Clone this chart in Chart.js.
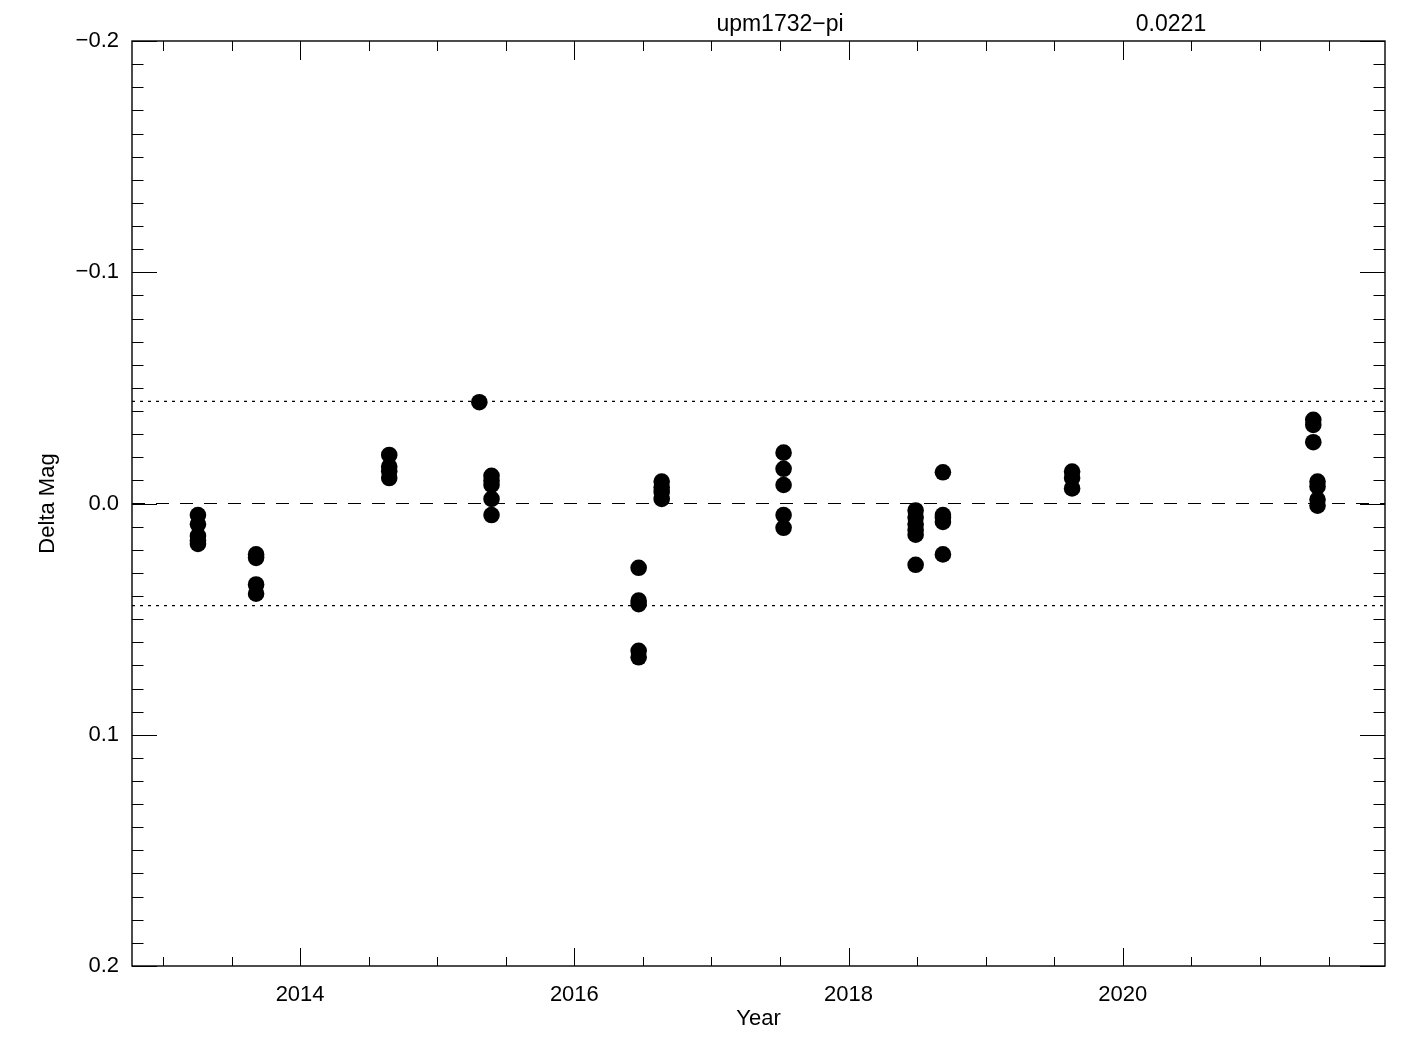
<!DOCTYPE html>
<html>
<head>
<meta charset="utf-8">
<script src="https://cdn.jsdelivr.net/npm/chart.js@4.4.1/dist/chart.umd.min.js"></script>
<style>
html,body{margin:0;padding:0;background:#fff;}
canvas{display:block;}
</style>
</head>
<body>
<canvas id="c" width="1425" height="1050" style="width:1425px;height:1050px"></canvas>
<script>
// ---- data ----
const starName = "upm1732\u2212pi";
const rmsLabel = "0.0221";
const obsYear = [
  2013.255,2013.255,2013.255,2013.255,2013.255,
  2013.679,2013.679,2013.679,2013.679,
  2014.650,2014.650,2014.650,2014.650,
  2015.307,
  2015.396,2015.396,2015.396,2015.396,2015.396,
  2016.469,2016.469,2016.469,2016.469,2016.469,
  2016.637,2016.637,2016.637,2016.637,
  2017.526,2017.526,2017.526,2017.526,2017.526,
  2018.489,2018.489,2018.489,2018.489,2018.489,2018.489,
  2018.688,2018.688,2018.688,2018.688,2018.688,
  2019.630,2019.630,2019.630,
  2021.389,2021.389,2021.389,
  2021.420,2021.420,2021.420,2021.420
];
const deltaMag = [
  0.005,0.009,0.014,0.016,0.0175,
  0.022,0.0235,0.035,0.039,
  -0.021,-0.016,-0.014,-0.011,
  -0.0438,
  -0.012,-0.010,-0.008,-0.002,0.005,
  0.0278,0.042,0.0435,0.0637,0.0665,
  -0.0095,-0.007,-0.005,-0.002,
  -0.022,-0.015,-0.008,0.005,0.0105,
  0.003,0.006,0.009,0.0115,0.0135,0.0265,
  -0.0135,0.005,0.006,0.008,0.022,
  -0.0138,-0.011,-0.0065,
  -0.0362,-0.034,-0.0265,
  -0.0095,-0.0074,-0.0017,0.0009
];
const meanLine = 0.0;
const limitLines = [-0.0442, 0.0442];
const xRange = [2012.774, 2021.912];
const yRange = [-0.2, 0.2];
const xMajorTicks = [2014, 2016, 2018, 2020];
const xMinorStep = 0.5;
const yMajorTicks = [-0.2, -0.1, 0.0, 0.1, 0.2];
const yMinorStep = 0.01;
const xTitle = "Year";
const yTitle = "Delta Mag";

const FONT = "'Liberation Sans', Arial, sans-serif";
const FS = 22;

const points = obsYear.map((t, i) => ({x: t, y: deltaMag[i]}));
const hline = v => [{x: xRange[0], y: v}, {x: xRange[1], y: v}];

const fmtY = v => {
  if (Math.abs(v) < 1e-9) return "0.0";
  const s = Math.abs(v).toFixed(1);
  return (v < 0 ? "\u2212" : "") + s;
};

const frame = {
  id: 'frame',
  afterDraw(chart) {
    const ctx = chart.ctx;
    const a = chart.chartArea;
    const xs = chart.scales.x, ys = chart.scales.y;
    ctx.save();
    ctx.strokeStyle = '#000';
    ctx.lineWidth = 1;
    ctx.beginPath();
    const nY = Math.round((yRange[1] - yRange[0]) / yMinorStep);
    for (let k = 0; k <= nY; k++) {
      const v = yRange[0] + k * yMinorStep;
      const major = yMajorTicks.some(m => Math.abs(m - v) < 1e-9);
      const py = Math.round(ys.getPixelForValue(v)) + 0.5;
      const len = major ? 25 : 11.5;
      ctx.moveTo(a.left, py); ctx.lineTo(a.left + len, py);
      ctx.moveTo(a.right, py); ctx.lineTo(a.right - len, py);
    }
    const start = Math.ceil(xRange[0] / xMinorStep) * xMinorStep;
    for (let v = start; v <= xRange[1] + 1e-9; v += xMinorStep) {
      const major = xMajorTicks.some(m => Math.abs(m - v) < 1e-9);
      const px = Math.round(xs.getPixelForValue(v)) + 0.5;
      ctx.moveTo(px, a.bottom); ctx.lineTo(px, a.bottom - (major ? 18 : 9));
      ctx.moveTo(px, a.top); ctx.lineTo(px, a.top + (major ? 19 : 10));
    }
    ctx.stroke();
    ctx.lineWidth = 1.4;
    ctx.strokeRect(a.left, a.top, a.right - a.left, a.bottom - a.top);
    ctx.fillStyle = '#000';
    ctx.font = (FS + 1) + "px " + FONT;
    ctx.textAlign = 'center';
    ctx.textBaseline = 'middle';
    ctx.fillText(starName, 780, 25);
    ctx.fillText(rmsLabel, 1171, 25);
    ctx.restore();
  }
};

new Chart(document.getElementById('c'), {
  type: 'scatter',
  data: {
    datasets: [
      {
        type: 'line', data: hline(meanLine), borderColor: '#000', borderWidth: 1.2,
        borderDash: [13, 11], pointRadius: 0, fill: false, order: 2
      },
      {
        type: 'line', data: hline(limitLines[0]), borderColor: '#000', borderWidth: 1.2,
        borderDash: [3, 5], pointRadius: 0, fill: false, order: 2
      },
      {
        type: 'line', data: hline(limitLines[1]), borderColor: '#000', borderWidth: 1.2,
        borderDash: [3, 5], pointRadius: 0, fill: false, order: 2
      },
      {
        data: points, backgroundColor: '#000', borderWidth: 0,
        pointRadius: 8.3, pointHoverRadius: 8.3, order: 1
      }
    ]
  },
  options: {
    responsive: false,
    devicePixelRatio: 1,
    animation: false,
    events: [],
    layout: {padding: {top: 41, right: 40, left: 0, bottom: 0}},
    plugins: {legend: {display: false}, tooltip: {enabled: false}, title: {display: false}},
    scales: {
      x: {
        type: 'linear', min: xRange[0], max: xRange[1],
        grid: {display: false}, border: {display: false},
        afterBuildTicks: s => { s.ticks = xMajorTicks.map(v => ({value: v})); },
        afterFit: s => { s.height = 84; },
        ticks: {
          color: '#000', font: {family: FONT, size: FS}, padding: 8,
          maxRotation: 0, autoSkip: false, callback: v => String(v)
        },
        title: {display: true, text: xTitle, color: '#000', font: {family: FONT, size: FS}, padding: {top: 0, bottom: 18}}
      },
      y: {
        type: 'linear', min: yRange[0], max: yRange[1], reverse: true,
        grid: {display: false}, border: {display: false},
        afterBuildTicks: s => { s.ticks = yMajorTicks.map(v => ({value: v})); },
        afterFit: s => { s.width = 132; },
        ticks: {
          color: '#000', font: {family: FONT, size: FS}, padding: 5,
          autoSkip: false, callback: v => fmtY(v)
        },
        title: {display: true, text: yTitle, color: '#000', font: {family: FONT, size: FS}, padding: {top: 35, bottom: 0}}
      }
    }
  },
  plugins: [frame]
});
</script>
</body>
</html>
